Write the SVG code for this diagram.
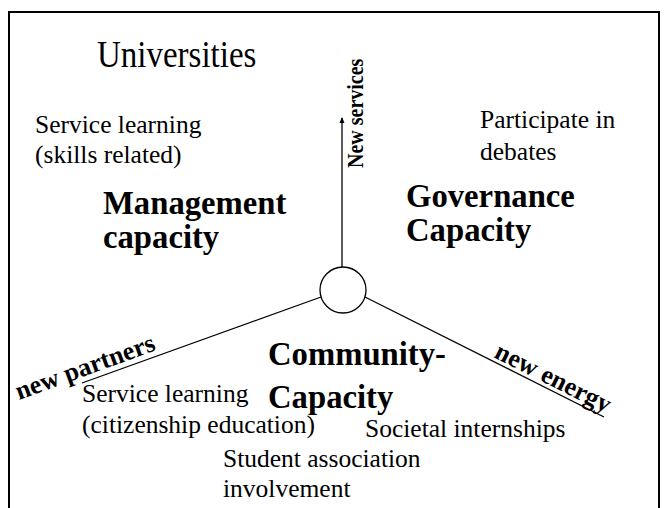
<svg xmlns="http://www.w3.org/2000/svg" width="670" height="508" viewBox="0 0 670 508">
<style>
.r{font-family:"Liberation Serif","Times New Roman",serif;font-size:25.5px;fill:#000}
.b{font-family:"Liberation Serif","Times New Roman",serif;font-weight:bold;font-size:32.7px;fill:#000}
.l{font-family:"Liberation Serif","Times New Roman",serif;font-weight:bold;font-size:26px;fill:#000}
.ln{stroke:#000;stroke-width:1.3;fill:none}
</style>
<defs>
<marker id="ah" markerWidth="6" markerHeight="6" refX="5" refY="3" orient="auto" markerUnits="userSpaceOnUse">
<path d="M0,0.5 L6,3 L0,5.5 Z" fill="#000"/>
</marker>
</defs>
<rect width="670" height="508" fill="#fff"/>
<path d="M9,520 V12 H659 V520" fill="none" stroke="#000" stroke-width="2"/>
<g id="connectors">
<line class="ln" x1="342" y1="268" x2="342" y2="118" marker-end="url(#ah)"/>
<line class="ln" x1="321" y1="297" x2="82" y2="383"/>
<line class="ln" x1="365" y1="297" x2="604" y2="417"/>
</g>
<g id="hub"><ellipse cx="343" cy="290" rx="23" ry="23" fill="#fff" stroke="#000" stroke-width="1.3"/></g>
<g id="label-services"><text class="l" transform="translate(363,168) rotate(-90) scale(1,1.18)" style="font-size:20px">New services</text></g>
<g id="label-partners"><text class="l" transform="translate(19,400) rotate(-20)">new partners</text></g>
<g id="label-energy"><text class="l" transform="translate(493,357) rotate(26.5)">new energy</text></g>
<g id="universities"><text class="r" transform="translate(97,67) scale(1,1.12)" style="font-size:33px">Universities</text></g>
<g id="management">
<text class="r" x="35" y="133">Service learning</text>
<text class="r" x="35" y="163">(skills related)</text>
<text class="b" x="103" y="214">Management</text>
<text class="b" x="103" y="248">capacity</text>
</g>
<g id="governance">
<text class="r" x="480" y="128">Participate in</text>
<text class="r" x="480" y="160">debates</text>
<text class="b" x="406" y="207">Governance</text>
<text class="b" x="406" y="241">Capacity</text>
</g>
<g id="community">
<text class="b" x="268" y="365">Community-</text>
<text class="b" x="268" y="408">Capacity</text>
<text class="r" x="82" y="402">Service learning</text>
<text class="r" x="82" y="433">(citizenship education)</text>
<text class="r" x="365" y="437">Societal internships</text>
<text class="r" x="223" y="467">Student association</text>
<text class="r" x="223" y="497">involvement</text>
</g>
</svg>
